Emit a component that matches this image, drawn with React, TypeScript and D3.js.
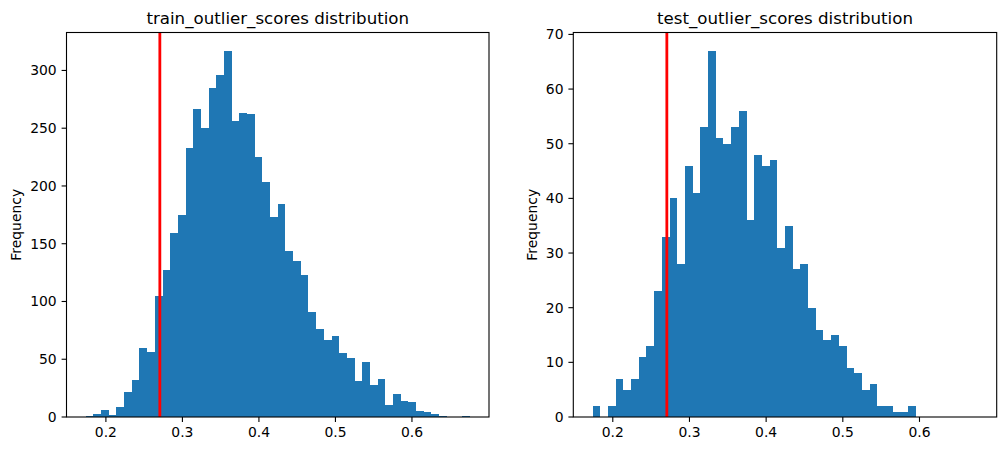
import React from "react";
import * as d3 from "d3";

// histogram counts, 50 shared bins
const BIN_MIN = 0.1736;
const BIN_WIDTH = 0.01004;
const trainCounts = [
  1, 3, 6, 2, 9, 22, 32, 60, 56, 105,
  127, 159, 175, 233, 267, 250, 285, 296, 317, 256,
  263, 262, 225, 203, 173, 184, 144, 135, 123, 91,
  76, 67, 70, 55, 51, 31, 48, 28, 33, 10,
  20, 14, 13, 5, 4, 3, 1, 0, 0, 1,
];
const testCounts = [
  2, 0, 2, 7, 5, 7, 11, 13, 23, 33,
  40, 28, 46, 41, 53, 67, 51, 50, 53, 56,
  36, 48, 46, 47, 31, 35, 27, 28, 20, 16,
  14, 15, 13, 9, 8, 5, 6, 2, 2, 1,
  1, 2, 0, 0, 0, 0, 0, 0, 0, 0,
];
const threshold = 0.2705;
const xTicks = [0.2, 0.3, 0.4, 0.5, 0.6];
const trainYTicks = [0, 50, 100, 150, 200, 250, 300];
const testYTicks = [0, 10, 20, 30, 40, 50, 60, 70];

const font = "DejaVu Sans, sans-serif";
const barColor = "#1f77b4";

function Hist({ left, right, counts, yTicks, title }) {
  const top = 32.5;
  const bottom = 417;
  const lo = BIN_MIN;
  const hi = BIN_MIN + BIN_WIDTH * counts.length;
  const pad = (hi - lo) * 0.05;
  const x = d3.scaleLinear().domain([lo - pad, hi + pad]).range([left, right]);
  const maxC = d3.max(counts);
  const y = d3.scaleLinear().domain([0, maxC * 1.05]).range([bottom, top]);

  return (
    <g>
      {counts.map((c, i) =>
        c > 0 ? (
          <rect
            key={i}
            x={x(lo + i * BIN_WIDTH)}
            width={x(lo + (i + 1) * BIN_WIDTH) - x(lo + i * BIN_WIDTH)}
            y={y(c)}
            height={y(0) - y(c)}
            fill={barColor}
            shapeRendering="crispEdges"
          />
        ) : null
      )}
      <line x1={x(threshold)} x2={x(threshold)} y1={top} y2={bottom} stroke="red" strokeWidth={2.8} />
      <rect x={left} y={top} width={right - left} height={bottom - top} fill="none" stroke="black" strokeWidth={1.1} />
      {xTicks.map((t) => (
        <g key={t}>
          <line x1={x(t)} x2={x(t)} y1={bottom} y2={bottom + 4.9} stroke="black" strokeWidth={1.1} />
          <text x={x(t)} y={437.3} textAnchor="middle" fontSize={13.9} fontFamily={font} fill="#000">
            {t.toFixed(1)}
          </text>
        </g>
      ))}
      {yTicks.map((t) => (
        <g key={t}>
          <line x1={left - 4.9} x2={left} y1={y(t)} y2={y(t)} stroke="black" strokeWidth={1.1} />
          <text x={left - 9.8} y={y(t)} dy="0.35em" textAnchor="end" fontSize={13.9} fontFamily={font} fill="#000">
            {t}
          </text>
        </g>
      ))}
      <text
        transform={`translate(${left - (yTicks[yTicks.length - 1] >= 100 ? 45.5 : 36.5)},${(top + bottom) / 2}) rotate(-90)`}
        textAnchor="middle"
        fontSize={13.9}
        fontFamily={font}
        fill="#000"
      >
        Frequency
      </text>
      <text x={(left + right) / 2} y={24} textAnchor="middle" fontSize={16.67} fontFamily={font} fill="#000">
        {title}
      </text>
    </g>
  );
}

export default function App() {
  return (
    <svg width={1005} height={451} style={{ position: "absolute", left: 0, top: 0, background: "#fff" }}>
      <Hist left={66.5} right={489} counts={trainCounts} yTicks={trainYTicks} title="train_outlier_scores distribution" />
      <Hist left={573.3} right={996.7} counts={testCounts} yTicks={testYTicks} title="test_outlier_scores distribution" />
    </svg>
  );
}
